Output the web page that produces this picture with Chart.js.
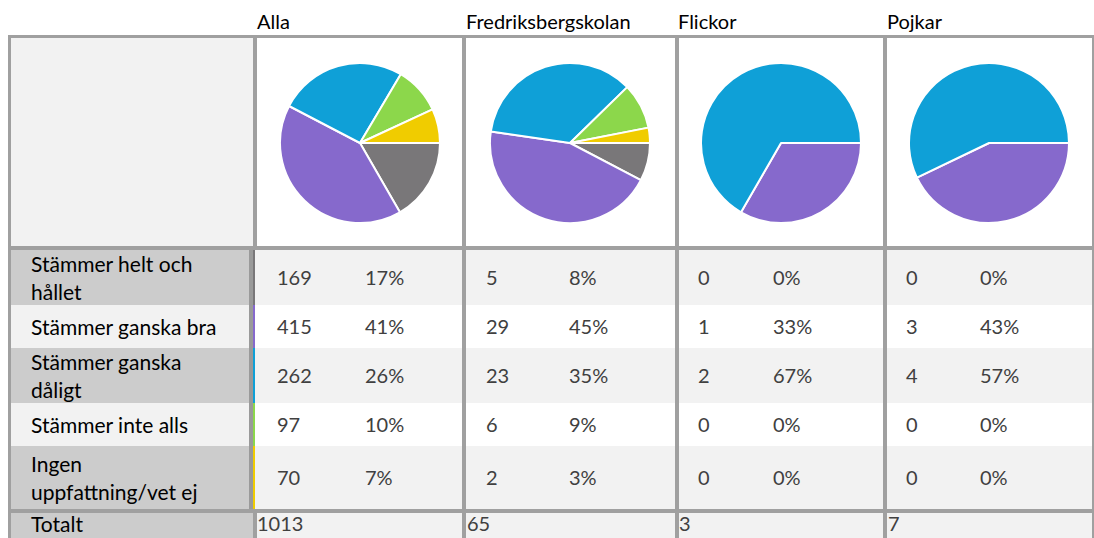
<!DOCTYPE html>
<html>
<head>
<meta charset="utf-8">
<script src="https://cdn.jsdelivr.net/npm/chart.js@4.4.1/dist/chart.umd.min.js"></script>
<style>
    body { margin: 0; background: #fff; font-family: Lato, "Open Sans", sans-serif; }
    #wrap { position: relative; width: 1094px; height: 538px; overflow: hidden; }
    .box { position: absolute; }
    .cell { position: absolute; display: flex; align-items: center; font-size: 20px; line-height: 27.5px; white-space: pre; }
    .lab { font-size: 21px; }
    .pie { position: absolute; width: 162px; height: 162px; }
</style>
</head>
<body>
<div id="wrap"></div>
<script>
// Data
const groups = ['Alla', 'Fredriksbergskolan', 'Flickor', 'Pojkar'];
const answers = ['Stämmer helt och\nhållet', 'Stämmer ganska bra', 'Stämmer ganska\ndåligt', 'Stämmer inte alls', 'Ingen\nuppfattning/vet ej'];
const colors = ['#797779', '#8669cc', '#0fa0d7', '#8cd74b', '#f0cc00'];
const alla = [169, 415, 262, 97, 70];
const fredriksberg = [5, 29, 23, 6, 2];
const flickor = [0, 1, 2, 0, 0];
const pojkar = [0, 3, 4, 0, 0];
const series = [alla, fredriksberg, flickor, pojkar];

// Layout
const headX = [257, 466, 678, 887];
const totX = [257, 467, 679, 888];
const numX = [277, 486, 698, 906];
const pctX = [365, 569, 773, 980];
const pieCx = [360, 570, 781, 989];
const pieCy = 143;
const rowY = [250, 305, 348, 403, 446, 509];
const lineColor = '#a0a0a0';

const wrap = document.getElementById('wrap');

function box(x, y, w, h, bg) {
    const d = document.createElement('div');
    d.className = 'box';
    d.style.cssText = `left:${x}px;top:${y}px;width:${w}px;height:${h}px;background:${bg}`;
    wrap.appendChild(d);
    return d;
}

function cell(x, y, h, text, color, cls) {
    const d = document.createElement('div');
    d.className = 'cell' + (cls ? ' ' + cls : '');
    d.style.cssText = `left:${x}px;top:${y}px;height:${h}px;color:${color}`;
    d.textContent = text;
    wrap.appendChild(d);
    return d;
}

// backgrounds
box(11, 38, 242, 208, '#f2f2f2');
for (let i = 0; i < answers.length; i++) {
    const y = rowY[i], h = rowY[i + 1] - rowY[i];
    box(11, y, 238, h, i % 2 ? '#f2f2f2' : '#cccccc');
    box(255, y, 837, h, i % 2 ? '#ffffff' : '#f2f2f2');
    box(253, y, 2, h, colors[i]);
}
box(249, rowY[0], 4, rowY[5] - rowY[0], '#9a9a9a');
box(11, 513, 242, 25, '#cccccc');
box(256, 513, 836, 25, '#f2f2f2');

// grid lines
box(8, 35, 1086, 3, lineColor);
box(8, 35, 3, 503, lineColor);
box(8, 246, 1086, 4, lineColor);
box(8, 509, 1086, 4, lineColor);
box(253, 35, 4, 215, lineColor);
box(253, 509, 4, 29, lineColor);
[462, 675, 883].forEach(x => box(x, 35, 4, 503, lineColor));
box(1092, 35, 2, 503, lineColor);

// header texts
groups.forEach((g, j) => cell(headX[j], 8, 27, g, '#000'));

// rows
answers.forEach((a, i) => {
    const y = rowY[i], h = rowY[i + 1] - rowY[i];
    cell(31, y, h, a, '#000', 'lab');
    series.forEach((s, j) => {
        const total = s.reduce((p, v) => p + v, 0);
        cell(numX[j], y, h, String(s[i]), '#404040');
        cell(pctX[j], y, h, Math.round(s[i] / total * 100) + '%', '#404040');
    });
});

// totals
cell(31, 511, 26, 'Totalt', '#000', 'lab');
series.forEach((s, j) => {
    cell(totX[j], 511, 26, String(s.reduce((p, v) => p + v, 0)), '#404040');
});

// pies
series.forEach((s, j) => {
    const d = document.createElement('div');
    d.className = 'pie';
    d.style.left = (pieCx[j] - 81) + 'px';
    d.style.top = (pieCy - 81) + 'px';
    const c = document.createElement('canvas');
    d.appendChild(c);
    wrap.appendChild(d);
    new Chart(c, {
        type: 'pie',
        data: {
            labels: answers,
            datasets: [{ data: s, backgroundColor: colors, borderColor: '#ffffff', borderWidth: 2 }]
        },
        options: {
            responsive: true,
            maintainAspectRatio: false,
            animation: false,
            rotation: 90,
            layout: { padding: 0 },
            plugins: { legend: { display: false }, tooltip: { enabled: false } }
        }
    });
});
</script>
</body>
</html>
